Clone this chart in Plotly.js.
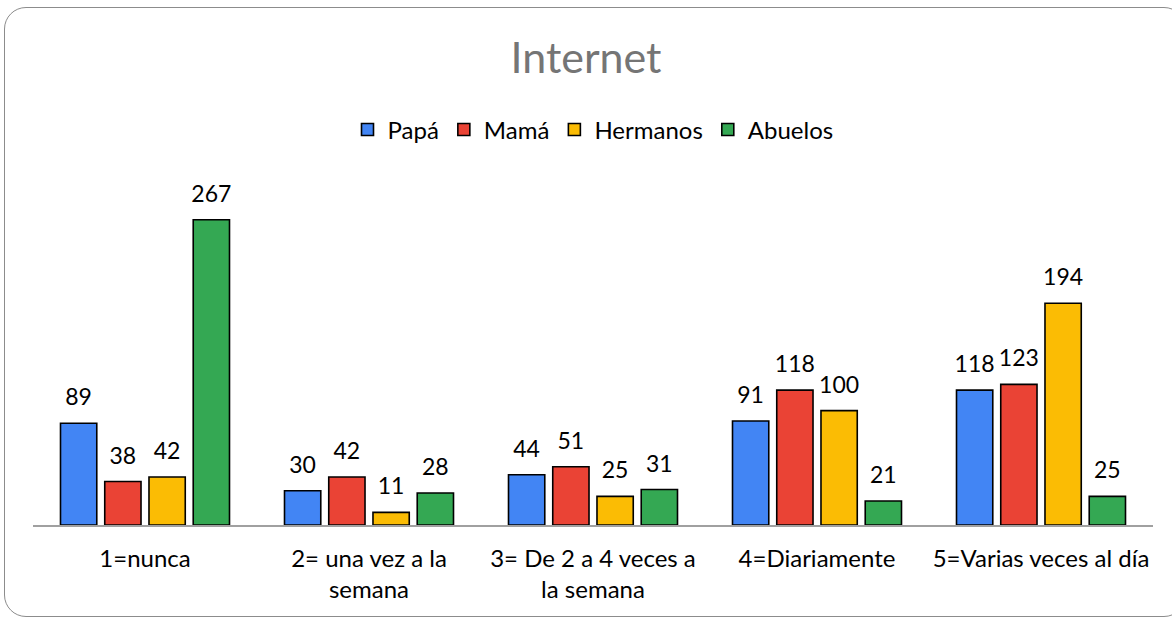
<!DOCTYPE html>
<html>
<head>
<meta charset="utf-8">
<script src="https://cdn.plot.ly/plotly-3.0.1.min.js"></script>
<style>
    body { margin: 0; background: #fff; }
    #chart { position: absolute; left: 0; top: 0; width: 1172px; height: 617px; }
    #frame {
        position: absolute; left: 4px; top: 7px; width: 1180px; height: 608px;
        border: 1.5px solid #8c8c8c; border-radius: 22px; pointer-events: none;
    }
</style>
</head>
<body>
<div id="chart"></div>
<div id="frame"></div>
<script>
const categories = [
    '1=nunca',
    '2= una vez a la<br>semana',
    '3= De 2 a 4 veces a<br>la semana',
    '4=Diariamente',
    '5=Varias veces al día'
];
const seriesNames = ['Papá', 'Mamá', 'Hermanos', 'Abuelos'];
const papa = [89, 30, 44, 91, 118];
const mama = [38, 42, 51, 118, 123];
const hermanos = [42, 11, 25, 100, 194];
const abuelos = [267, 28, 31, 21, 25];
const colors = ['#4285F4', '#EA4335', '#FBBC04', '#34A853'];

const values = [papa, mama, hermanos, abuelos];

const bars = values.map((vals, i) => ({
    x: categories,
    y: vals,
    type: 'bar',
    name: seriesNames[i],
    offsetgroup: 'g' + i,
    marker: { color: colors[i], line: { color: '#000', width: 1.6 } },
    hoverinfo: 'x+y+name'
}));

// value labels, grouped like the bars so they sit over each one
const labels = values.map((vals, i) => ({
    x: categories,
    y: vals,
    type: 'scatter',
    mode: 'markers+text',
    offsetgroup: 'g' + i,
    showlegend: false,
    hoverinfo: 'skip',
    cliponaxis: false,
    text: vals.map(String),
    textposition: 'top center',
    textfont: { size: 23, color: '#000' },
    marker: { size: 18, opacity: 0 }
}));

const layout = {
    width: 1172,
    height: 617,
    margin: { l: 33, r: 19, t: 182, b: 92 },
    font: { family: 'Lato, "Open Sans", sans-serif', color: '#000' },
    title: {
        text: 'Internet',
        font: { size: 43, color: '#757575' },
        x: 0.5, xanchor: 'center',
        y: 0.906, yanchor: 'middle'
    },
    legend: {
        orientation: 'h',
        x: 0.5, xanchor: 'center',
        y: 1.152, yanchor: 'middle',
        font: { size: 24, color: '#000' },
        itemclick: false
    },
    barmode: 'group',
    bargap: 0.21,
    bargroupgap: 0.18,
    scattermode: 'group',
    scattergap: 0.21,
    xaxis: {
        showline: true,
        linecolor: '#a0a0a0',
        linewidth: 1.5,
        ticks: '',
        ticklabelstandoff: 11,
        tickfont: { size: 24, color: '#000' },
        fixedrange: true
    },
    yaxis: {
        range: [0, 300],
        visible: false,
        showgrid: false,
        zeroline: false,
        fixedrange: true
    },
    plot_bgcolor: 'rgba(0,0,0,0)',
    paper_bgcolor: '#fff'
};

Plotly.newPlot('chart', bars.concat(labels), layout, { displayModeBar: false });
</script>
</body>
</html>
